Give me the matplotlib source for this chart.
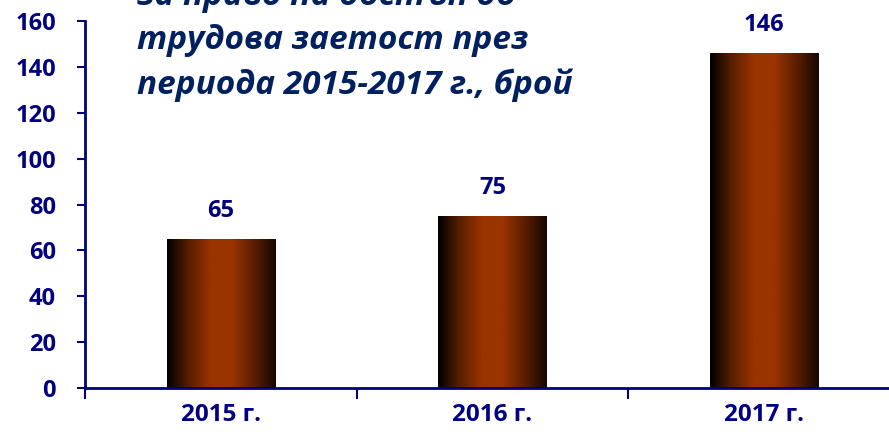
import numpy as np
import matplotlib
matplotlib.use("Agg")
import matplotlib.pyplot as plt
from matplotlib.colors import LinearSegmentedColormap

years = ["2015 г.", "2016 г.", "2017 г."]
values = [65, 75, 146]
title_lines = ["за право на достъп до", "трудова заетост през", "периода 2015-2017 г., брой"]

navy = "#000080"
title_col = "#002060"

plt.rcParams["font.family"] = ["Open Sans", "DejaVu Sans"]
plt.rcParams["font.weight"] = "bold"

fig = plt.figure(figsize=(8.89, 4.37), dpi=100)
ax = fig.add_axes([85 / 889, 49 / 437, 815 / 889, 367 / 437])

x = np.arange(len(values))
bars = ax.bar(x, values, width=0.40, color="none", zorder=2)

# horizontal gradient: dark at the edges, brown-orange in the middle
grad = LinearSegmentedColormap.from_list(
    "bar", ["#000000", "#5a1e00", "#993300", "#993300", "#5a1e00", "#150700"])
g = np.linspace(0, 1, 256).reshape(1, -1)
for b in bars:
    x0, y0 = b.get_x(), b.get_y()
    im = ax.imshow(g, cmap=grad, aspect="auto", zorder=2,
                   extent=[x0, x0 + b.get_width(), y0, y0 + b.get_height()])
    im.set_clip_path(b)

for xi, v in zip(x, values):
    ax.text(xi, v + 7, str(v), ha="center", va="bottom", color=navy,
            fontsize=17, fontweight="bold")

ax.set_xlim(-0.5, 2.5)
ax.set_ylim(0, 160)
ax.set_yticks(range(0, 161, 20))
ax.set_xticks([-0.5, 0.5, 1.5, 2.5])
ax.set_xticklabels([])
ax.set_xticks(x, minor=True)
ax.set_xticklabels(years, minor=True)
ax.tick_params(axis="x", which="minor", length=0, pad=11, labelsize=17.5, labelcolor=navy)
ax.tick_params(axis="x", which="major", length=8, width=1.5, color=navy, direction="out")
ax.tick_params(axis="y", length=6, width=1.5, color=navy, labelsize=17, labelcolor=navy, pad=15)
for lbl in ax.get_yticklabels() + ax.get_xticklabels(minor=True):
    lbl.set_fontweight("bold")

for s in ["top", "right"]:
    ax.spines[s].set_visible(False)
for s in ["left", "bottom"]:
    ax.spines[s].set_color(navy)
    ax.spines[s].set_linewidth(2)
ax.set_facecolor("none")

fig.text(137 / 889, 1 - 41 / 437, "\n".join(title_lines), ha="left", va="center",
         fontsize=24, fontstyle="italic", fontweight="bold", color=title_col,
         linespacing=1.44)

fig.savefig("out.png", dpi=100)
